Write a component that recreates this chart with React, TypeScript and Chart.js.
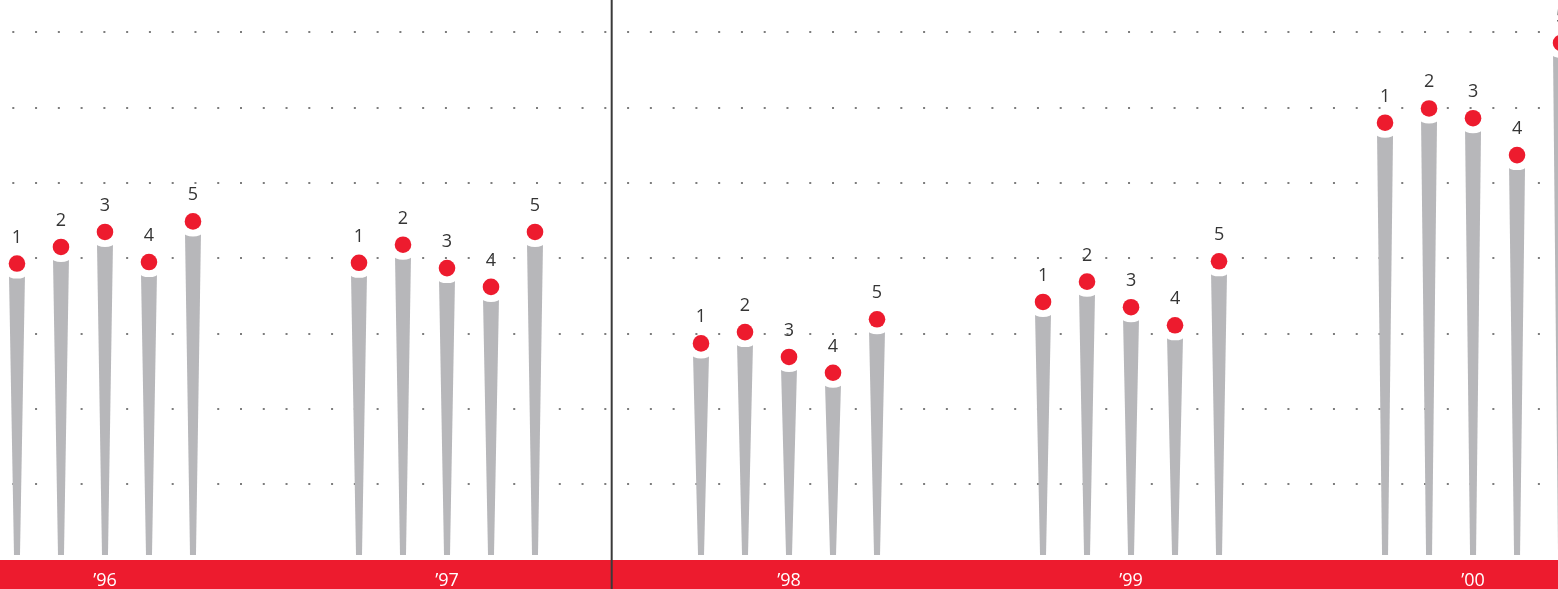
import React, { useEffect, useRef } from 'react';
import { Chart, registerables } from 'chart.js';

Chart.register(...registerables);

// ---- data ----
const YEARS = ['’96', '’97', '’98', '’99', '’00'];
const ITEM_LABELS = ['1', '2', '3', '4', '5'];
const VALUES_96 = [39.3, 41.5, 43.5, 39.5, 44.9];
const VALUES_97 = [39.4, 41.8, 38.7, 36.2, 43.5];
const VALUES_98 = [28.7, 30.2, 26.9, 24.8, 31.9];
const VALUES_99 = [34.2, 36.9, 33.5, 31.1, 39.6];
const VALUES_00 = [58.0, 59.9, 58.6, 53.7, 68.6];
const SERIES = [VALUES_96, VALUES_97, VALUES_98, VALUES_99, VALUES_00];

// ---- layout constants (scale units) ----
const GROUP_SPAN = 7.773; // slot units per year group
const DIVIDER_AT = 13.516;
const X_MIN = -0.386;
const X_MAX = 35.023;
const Y_MAX = 74.3;
const GRID_STEP = 10;

const RED = '#ED1B2E';
const BAR_GRAY = '#B7B7BA';
const TEXT = '#353535';
const FONT = "'Open Sans', 'Noto Sans', sans-serif";

export default function App() {
  const ref = useRef<HTMLCanvasElement>(null);

  useEffect(() => {
    const canvas = ref.current;
    if (!canvas) return;

    const points: { x: number; y: number }[] = [];
    const labels: string[] = [];
    SERIES.forEach((vals, g) =>
      vals.forEach((v, i) => {
        points.push({ x: g * GROUP_SPAN + i, y: v });
        labels.push(ITEM_LABELS[i]);
      })
    );
    const yearTicks = YEARS.map((_, g) => g * GROUP_SPAN + 2);

    const deco = {
      id: 'deco',
      beforeDraw(chart: any) {
        const { ctx, chartArea, width, height } = chart;
        ctx.save();
        ctx.fillStyle = RED;
        ctx.fillRect(0, chartArea.bottom + 0.5, width, height - chartArea.bottom);
        ctx.restore();
      },
      beforeDatasetsDraw(chart: any) {
        const ctx = chart.ctx;
        const meta = chart.getDatasetMeta(0);
        ctx.save();
        meta.data.forEach((el: any) => {
          const { x, y, base } = el.getProps(['x', 'y', 'base'], true);
          const top = y + 11;
          const bottom = base - 3.5;
          ctx.fillStyle = BAR_GRAY;
          ctx.beginPath();
          ctx.moveTo(x - 8, top);
          ctx.lineTo(x + 8, top);
          ctx.lineTo(x + 3, bottom);
          ctx.lineTo(x - 3, bottom);
          ctx.closePath();
          ctx.fill();
          ctx.fillStyle = '#ffffff';
          ctx.beginPath();
          ctx.ellipse(x, top, 9.5, 4, 0, 0, Math.PI * 2);
          ctx.fill();
        });
        ctx.restore();
      },
      afterDatasetsDraw(chart: any) {
        const ctx = chart.ctx;
        const meta = chart.getDatasetMeta(1);
        ctx.save();
        ctx.fillStyle = TEXT;
        ctx.font = `18px ${FONT}`;
        ctx.textAlign = 'center';
        ctx.textBaseline = 'alphabetic';
        meta.data.forEach((el: any, i: number) => {
          ctx.fillText(labels[i], el.x, el.y - 21);
        });
        ctx.restore();
      },
      afterDraw(chart: any) {
        const { ctx, height } = chart;
        const x = chart.scales.x.getPixelForValue(DIVIDER_AT);
        ctx.save();
        ctx.strokeStyle = '#3a3a3a';
        ctx.lineWidth = 2;
        ctx.beginPath();
        ctx.moveTo(x, 0);
        ctx.lineTo(x, height);
        ctx.stroke();
        ctx.restore();
      },
    };

    const chart = new Chart(canvas, {
      type: 'bar',
      data: {
        datasets: [
          {
            type: 'bar',
            data: points,
            backgroundColor: 'rgba(0,0,0,0)',
            borderWidth: 0,
          } as any,
          {
            type: 'scatter',
            data: points,
            pointRadius: 8.3,
            pointHoverRadius: 8.3,
            pointBackgroundColor: RED,
            pointBorderWidth: 0,
            showLine: false,
            clip: false,
          } as any,
        ],
      },
      options: {
        responsive: false,
        animation: false,
        events: [],
        layout: { padding: 0, autoPadding: false },
        plugins: { legend: { display: false }, tooltip: { enabled: false } },
        scales: {
          x: {
            type: 'linear',
            min: X_MIN,
            max: X_MAX,
            offset: false,
            grid: { display: false, drawTicks: false },
            border: { display: false },
            afterBuildTicks: (scale: any) => {
              scale.ticks = yearTicks.map((v) => ({ value: v }));
            },
            afterFit: (scale: any) => {
              scale.height = 29.5;
            },
            ticks: {
              autoSkip: false,
              maxRotation: 0,
              padding: 10.5,
              color: '#ffffff',
              font: { family: FONT, size: 18 },
              callback: (_v: any, i: number) => YEARS[i],
            },
          },
          y: {
            type: 'linear',
            min: 0,
            max: Y_MAX,
            grid: {
              drawTicks: false,
              lineWidth: 2,
              color: (c: any) => (c.tick && c.tick.value === 0 ? 'rgba(0,0,0,0)' : '#7d7d7d'),
            },
            border: { display: false, dash: [2, 20.77], dashOffset: 10.47 },
            afterFit: (scale: any) => {
              scale.width = 0;
            },
            ticks: { display: false, stepSize: GRID_STEP, includeBounds: false },
          },
        },
      } as any,
      plugins: [deco],
    });

    return () => chart.destroy();
  }, []);

  return (
    <div style={{ position: 'absolute', left: 0, top: 0, width: 1558, height: 589, background: '#fff' }}>
      <canvas ref={ref} width={1558} height={589} style={{ display: 'block' }} />
    </div>
  );
}
